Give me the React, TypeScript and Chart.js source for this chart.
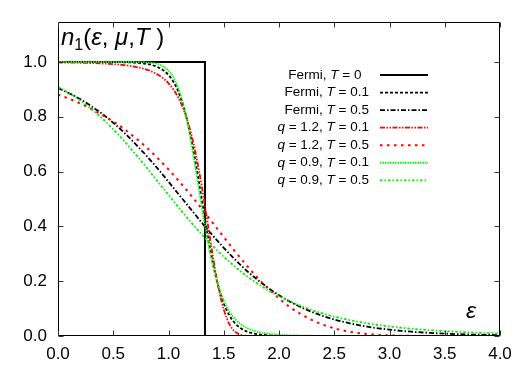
import React, { useEffect, useRef } from "react";
import { Chart, registerables } from "chart.js";

Chart.register(...registerables);

const FONT = "'Liberation Sans', Arial, Helvetica, sans-serif";

const xTicks = [0, 0.5, 1, 1.5, 2, 2.5, 3, 3.5, 4];
const yTicks = [0, 0.2, 0.4, 0.6, 0.8, 1.0];

// Fermi, T = 0 (step)
const fermiT0X = [0, 1.33, 1.33, 4];
const fermiT0Y = [1, 1, 0, 0];

// T = 0.1 curves
const xT01 = [0, 0.2, 0.4, 0.6, 0.7, 0.8, 0.85, 0.9, 0.95, 1.0, 1.05, 1.1, 1.15, 1.2, 1.25, 1.3, 1.35, 1.4, 1.45, 1.5, 1.55, 1.6, 1.65, 1.7, 1.75, 1.8, 1.9, 2.0, 2.2, 2.5, 3.0, 3.5, 4.0];
const fermiT01 = [1.0, 1.0, 1.0, 0.999, 0.9975, 0.9933, 0.989, 0.982, 0.9707, 0.9526, 0.9241, 0.8808, 0.8176, 0.7311, 0.6225, 0.5, 0.3775, 0.2689, 0.1824, 0.1192, 0.0759, 0.0474, 0.0293, 0.018, 0.011, 0.0067, 0.0025, 0.0009, 0.0001, 0, 0, 0, 0];
const q12T01 = [0.9984, 0.9972, 0.9946, 0.9886, 0.9826, 0.9725, 0.9649, 0.9547, 0.941, 0.9223, 0.8966, 0.861, 0.812, 0.7457, 0.6581, 0.5489, 0.4232, 0.2949, 0.1816, 0.097, 0.0439, 0.0162, 0.0045, 0.0008, 0.0001, 0, 0, 0, 0, 0, 0, 0, 0];
const q09T01 = [1, 1, 1, 1, 0.9999, 0.9988, 0.997, 0.9929, 0.9846, 0.9685, 0.9396, 0.8916, 0.8188, 0.7198, 0.6006, 0.4751, 0.3583, 0.2605, 0.1848, 0.1294, 0.0902, 0.063, 0.0442, 0.0312, 0.0222, 0.016, 0.0085, 0.0047, 0.0015, 0.0004, 0, 0, 0];

// T = 0.5 curves
const xT05 = [0, 0.1, 0.2, 0.3, 0.4, 0.5, 0.6, 0.7, 0.8, 0.9, 1.0, 1.1, 1.2, 1.3, 1.4, 1.5, 1.6, 1.7, 1.8, 1.9, 2.0, 2.1, 2.2, 2.3, 2.4, 2.5, 2.6, 2.7, 2.8, 2.9, 3.0, 3.1, 3.2, 3.3, 3.4, 3.5, 3.6, 3.7, 3.8, 3.9, 4.0];
const fermiT05 = [0.905, 0.886, 0.865, 0.839, 0.811, 0.778, 0.742, 0.701, 0.658, 0.612, 0.563, 0.513, 0.464, 0.414, 0.367, 0.322, 0.28, 0.241, 0.207, 0.176, 0.149, 0.125, 0.105, 0.0874, 0.0727, 0.0603, 0.0499, 0.0412, 0.034, 0.028, 0.0231, 0.019, 0.0156, 0.0128, 0.0105, 0.0086, 0.0071, 0.0058, 0.0047, 0.0039, 0.0032];
const q12T05 = [0.881, 0.866, 0.849, 0.829, 0.807, 0.783, 0.755, 0.723, 0.689, 0.65, 0.608, 0.563, 0.515, 0.465, 0.413, 0.361, 0.31, 0.261, 0.215, 0.174, 0.137, 0.105, 0.079, 0.0577, 0.0409, 0.028, 0.0185, 0.0117, 0.0071, 0.004, 0.0021, 0.001, 0.0004, 0.0002, 0, 0, 0, 0, 0, 0, 0];
const q09T05 = [0.909, 0.887, 0.86, 0.829, 0.794, 0.754, 0.711, 0.664, 0.616, 0.565, 0.515, 0.465, 0.417, 0.371, 0.329, 0.289, 0.254, 0.221, 0.193, 0.167, 0.145, 0.126, 0.109, 0.0942, 0.0816, 0.0706, 0.0612, 0.053, 0.046, 0.04, 0.0348, 0.0304, 0.0265, 0.0231, 0.0202, 0.0177, 0.0156, 0.0137, 0.012, 0.0106, 0.0093];

type Piece = [string, boolean];
const legendRows: Piece[][] = [
  [["Fermi, ", false], ["T", true], [" = 0", false]],
  [["Fermi, ", false], ["T", true], [" = 0.1", false]],
  [["Fermi, ", false], ["T", true], [" = 0.5", false]],
  [["q", true], [" = 1.2, ", false], ["T", true], [" = 0.1", false]],
  [["q", true], [" = 1.2, ", false], ["T", true], [" = 0.5", false]],
  [["q", true], [" = 0.9, ", false], ["T", true], [" = 0.1", false]],
  [["q", true], [" = 0.9, ", false], ["T", true], [" = 0.5", false]],
];
// the first row is laid out as if it carried the same width as the second
const legendPadding = ["  ", "", "", "", "", "", ""];

const yLabelPieces: { t: string; i?: boolean; sub?: boolean }[] = [
  { t: "n", i: true },
  { t: "1", sub: true },
  { t: "(" },
  { t: "ε", i: true },
  { t: ", " },
  { t: "μ", i: true },
  { t: "," },
  { t: "T", i: true },
  { t: " )" },
];
const xLabel = "ε";

const styles = [
  { color: "#000000", dash: [] as number[], width: 2 },
  { color: "#000000", dash: [3, 2], width: 1.8 },
  { color: "#000000", dash: [5, 2, 1.5, 2], width: 1.8 },
  { color: "#ff0000", dash: [5, 1.5, 1.5, 1.5, 1.5, 1.5], width: 1.8 },
  { color: "#ff0000", dash: [2.5, 4.5], width: 2 },
  { color: "#00ff00", dash: [1.5, 1], width: 1.8 },
  { color: "#00ee00", dash: [2.5, 2, 1.5, 2], width: 1.8 },
];

const overlay = {
  id: "overlay",
  afterDraw(chart: any) {
    const { ctx, chartArea: a, scales } = chart;
    const xs = scales.x;
    const ys = scales.y;
    ctx.save();
    const L = Math.round(a.left) + 0.5;
    const R = Math.round(a.right) - 0.5;
    const T = Math.round(a.top) + 0.5;
    const B = Math.round(a.bottom) - 0.5;
    ctx.strokeStyle = "#000";
    ctx.lineWidth = 1;
    ctx.setLineDash([]);
    ctx.beginPath();
    ctx.moveTo(L, T); ctx.lineTo(R, T); ctx.lineTo(R, B); ctx.lineTo(L, B); ctx.closePath();
    ctx.stroke();
    ctx.strokeStyle = "#333";
    ctx.beginPath();
    xTicks.forEach((v) => {
      const px = Math.round(xs.getPixelForValue(v)) + 0.5;
      ctx.moveTo(px, B); ctx.lineTo(px, B - 5);
      ctx.moveTo(px, T); ctx.lineTo(px, T + 5);
    });
    yTicks.forEach((v) => {
      const py = Math.round(ys.getPixelForValue(v)) + 0.5;
      ctx.moveTo(L, py); ctx.lineTo(L + 5, py);
      ctx.moveTo(R, py); ctx.lineTo(R - 5, py);
    });
    ctx.stroke();

    // legend
    const size = 13.5;
    ctx.fillStyle = "#000";
    ctx.textBaseline = "middle";
    ctx.textAlign = "left";
    legendRows.forEach((row, i) => {
      const y = 75 + 17.55 * i;
      let total = 0;
      const pieces: Piece[] = [...row, [legendPadding[i], false]];
      pieces.forEach(([t, it]) => {
        ctx.font = `${it ? "italic " : ""}${size}px ${FONT}`;
        total += ctx.measureText(t).width;
      });
      let x = 369 - total;
      row.forEach(([t, it]) => {
        ctx.font = `${it ? "italic " : ""}${size}px ${FONT}`;
        ctx.fillText(t, x, y);
        x += ctx.measureText(t).width;
      });
      const s = styles[i];
      ctx.strokeStyle = s.color;
      ctx.lineWidth = s.width;
      ctx.setLineDash(s.dash);
      ctx.beginPath();
      ctx.moveTo(380, y);
      ctx.lineTo(428, y);
      ctx.stroke();
    });
    ctx.setLineDash([]);

    // y label (flowed)
    ctx.textBaseline = "alphabetic";
    ctx.fillStyle = "#000";
    let lx = 61;
    yLabelPieces.forEach((p) => {
      const sz = p.sub ? 16 : 24;
      ctx.font = `${p.i ? "italic " : ""}${sz}px ${FONT}`;
      ctx.fillText(p.t, lx, p.sub ? 50 : 45);
      lx += ctx.measureText(p.t).width;
    });

    // x label
    ctx.font = `italic 23px ${FONT}`;
    ctx.fillText(xLabel, 466, 318);
    ctx.restore();
  },
};

export default function App() {
  const ref = useRef<HTMLCanvasElement>(null);
  useEffect(() => {
    const canvas = ref.current!;
    const mk = (xs: number[], ys: number[]) => xs.map((x, i) => ({ x, y: ys[i] }));
    const seriesData = [
      mk(fermiT0X, fermiT0Y),
      mk(xT01, fermiT01),
      mk(xT05, fermiT05),
      mk(xT01, q12T01),
      mk(xT05, q12T05),
      mk(xT01, q09T01),
      mk(xT05, q09T05),
    ];
    const chart = new Chart(canvas, {
      type: "line",
      data: {
        datasets: seriesData.map((d, i) => ({
          data: d,
          borderColor: styles[i].color,
          borderDash: styles[i].dash,
          borderWidth: styles[i].width,
          pointRadius: 0,
          fill: false,
          tension: 0,
          cubicInterpolationMode: i === 0 ? "default" : "monotone",
          order: 10 - i,
        })),
      } as any,
      options: {
        responsive: false,
        animation: false,
        devicePixelRatio: 1,
        events: [],
        layout: { padding: { left: 0, right: 32, top: 22, bottom: 0 } },
        plugins: { legend: { display: false }, tooltip: { enabled: false } },
        scales: {
          x: {
            type: "linear",
            min: 0,
            max: 4,
            afterBuildTicks: (s: any) => { s.ticks = xTicks.map((v) => ({ value: v })); },
            afterFit: (s: any) => { s.height = 36; },
            grid: { display: false, drawTicks: false },
            border: { display: false },
            ticks: {
              color: "#000",
              font: { family: FONT, size: 17 },
              padding: 8,
              maxRotation: 0,
              autoSkip: false,
              callback: (v: any) => Number(v).toFixed(1),
            },
          },
          y: {
            type: "linear",
            min: 0,
            max: 1.146,
            afterBuildTicks: (s: any) => { s.ticks = yTicks.map((v) => ({ value: v })); },
            afterFit: (s: any) => { s.width = 58; },
            grid: { display: false, drawTicks: false },
            border: { display: false },
            ticks: {
              color: "#000",
              font: { family: FONT, size: 17 },
              padding: 11,
              autoSkip: false,
              callback: (v: any) => Number(v).toFixed(1),
            },
          },
        },
      } as any,
      plugins: [overlay],
    });
    return () => chart.destroy();
  }, []);
  return (
    <div style={{ position: "absolute", left: 0, top: 0, width: 532, height: 372, background: "#fff" }}>
      <canvas ref={ref} width={532} height={372} style={{ display: "block", width: 532, height: 372 }} />
    </div>
  );
}
